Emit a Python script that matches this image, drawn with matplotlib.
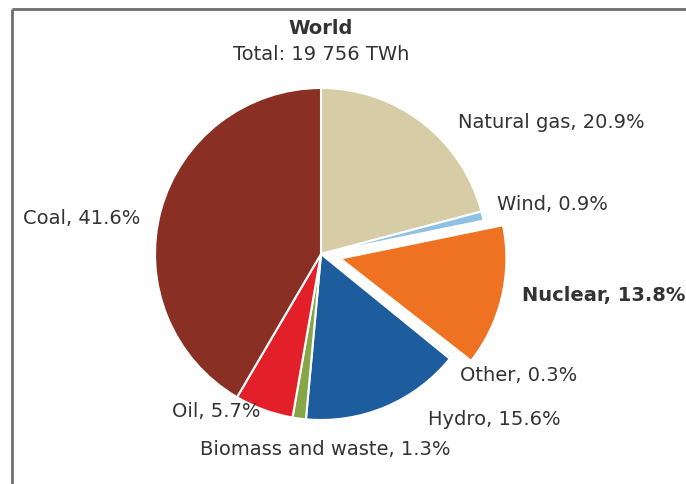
import matplotlib
matplotlib.use("Agg")
import matplotlib.pyplot as plt

plt.rcParams['font.family'] = ['DejaVu Sans']

categories = ["Natural gas", "Wind", "Nuclear", "Other", "Hydro",
              "Biomass and waste", "Oil", "Coal"]
shares = [20.9, 0.9, 13.8, 0.3, 15.6, 1.3, 5.7, 41.6]
colors = ["#d6cca5", "#8fc1e3", "#ef7122", "#e6e6e6", "#1d5d9d",
          "#86a648", "#e3202a", "#8a2f24"]
explode_frac = [0, 0, 0.12, 0, 0, 0, 0, 0]
title = "World"
subtitle = "Total: 19 756 TWh"

W, H = 686, 485
fig = plt.figure(figsize=(W / 100, H / 100), dpi=100)
ax = fig.add_axes([0, 0, 1, 1])

cx, cy, r = 321, H - 255, 166
ax.pie(shares, colors=colors, explode=[e * r for e in explode_frac],
       startangle=90, counterclock=False, center=(cx, cy), radius=r,
       wedgeprops=dict(edgecolor="white", linewidth=1.5))
ax.set_xlim(0, W)
ax.set_ylim(0, H)
ax.set_aspect("auto")
ax.axis("off")

# frame
ax.plot([12, W], [H - 10, H - 10], color="#6e6e6e", lw=2, solid_capstyle="butt")
ax.plot([12, 12], [H - 10, 0], color="#6e6e6e", lw=2, solid_capstyle="butt")

tc = "#333333"
fs = 14
ax.text(cx, H - 28, title, ha="center", va="center", fontsize=fs,
        fontweight="bold", color=tc)
ax.text(cx, H - 55, subtitle, ha="center", va="center", fontsize=fs, color=tc)

labels = [f"{c}, {v}%" for c, v in zip(categories, shares)]
pos = {
    "Natural gas": (458, 123, "left"),
    "Wind": (497, 205, "left"),
    "Nuclear": (522, 296, "left"),
    "Other": (460, 376, "left"),
    "Hydro": (428, 420, "left"),
    "Biomass and waste": (200, 450, "left"),
    "Oil": (172, 412, "left"),
    "Coal": (23, 218, "left"),
}
for c, lab in zip(categories, labels):
    x, y, ha = pos[c]
    ax.text(x, H - y, lab, ha=ha, va="center", fontsize=fs, color=tc,
            fontweight="bold" if c == "Nuclear" else "normal")

fig.savefig("out.png", dpi=100)
